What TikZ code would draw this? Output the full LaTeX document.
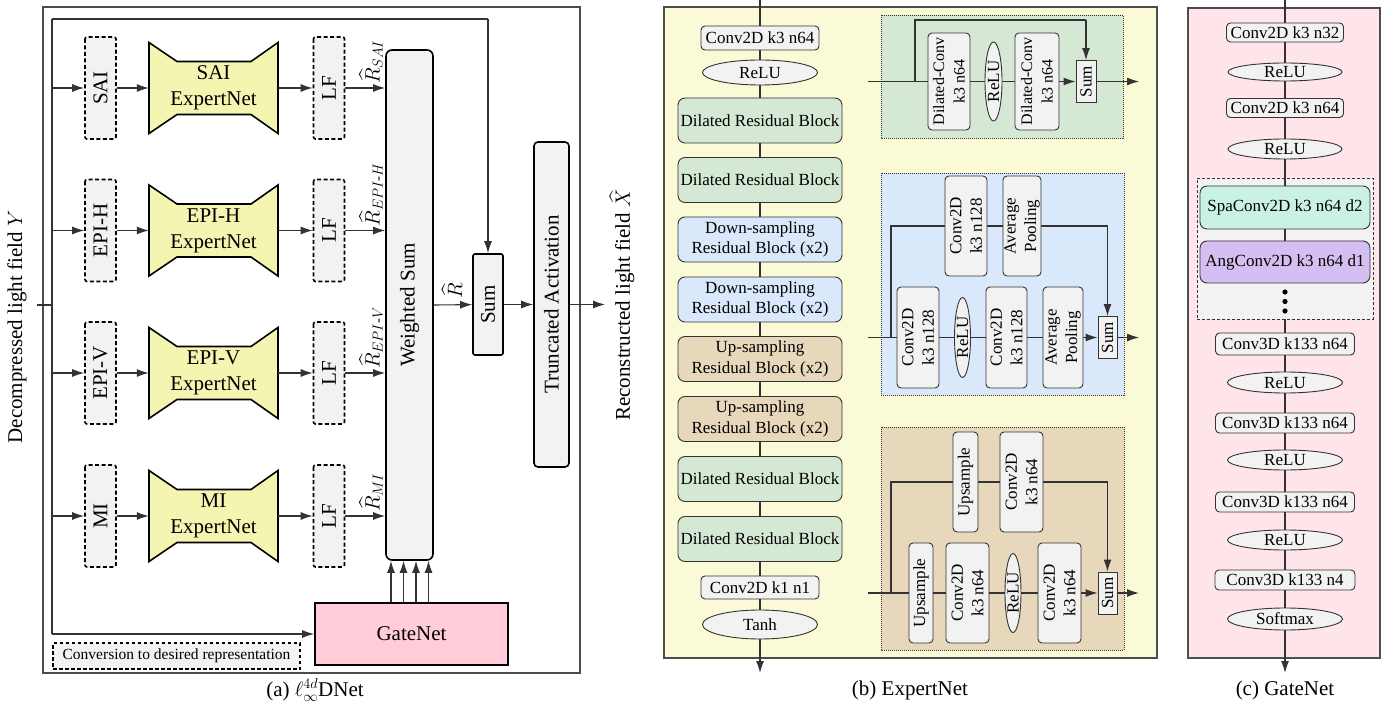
\documentclass[tikz,border=0pt]{standalone}
\usepackage{amsmath}
\usepackage{fontspec}
\setmainfont{Liberation Serif}
\usetikzlibrary{arrows.meta,calc,shapes.geometric}
\newcommand\fsA{\fontsize{21}{26}\selectfont}
\newcommand\fsB{\fontsize{17}{20.5}\selectfont}
\newcommand\fsD{\fontsize{16}{20.5}\selectfont}
\newcommand\fsC{\fontsize{15.5}{18}\selectfont}
\definecolor{cgray}{HTML}{F2F2F2}
\definecolor{cexp}{HTML}{F5F5B2}
\definecolor{cbgY}{HTML}{FAFAD6}
\definecolor{cgrn}{HTML}{D5E8D4}
\definecolor{cblu}{HTML}{DAE8FC}
\definecolor{ctan}{HTML}{E7D7BB}
\definecolor{cpnk}{HTML}{FFE5EA}
\definecolor{cgate}{HTML}{FFCCD8}
\definecolor{cmint}{HTML}{C9F2E2}
\definecolor{clav}{HTML}{D5BFF2}
\definecolor{cline}{HTML}{333333}
\tikzset{
  ln/.style={draw=cline, line width=1.1pt},
  arr/.style={ln, -{Latex[length=12pt,width=8pt]}},
  panel/.style={draw=black!70, line width=1.3pt},
  repbox/.style={draw=black, line width=1.6pt, dash pattern=on 4pt off 2.5pt, fill=cgray, rounded corners=2pt, rotate=90, minimum width=102pt, minimum height=31pt, inner sep=0pt, font=\fsA},
  expnode/.style={minimum width=129pt, minimum height=91pt, inner sep=0pt, align=center, font=\fsA},
  expshape/.style={draw=black, line width=1.6pt, fill=cexp, line join=miter},
  thickbox/.style={draw=black, line width=1.6pt, fill=cgray, inner sep=0pt, font=\fsA},
  blk/.style={draw=cline, line width=0.9pt, rounded corners=7pt, inner sep=0pt, align=center, font=\fsB, minimum width=164pt, minimum height=45pt},
  cbox/.style={draw=cline, line width=0.9pt, rounded corners=4pt, fill=cgray, inner sep=0pt, font=\fsB},
  sbox/.style={draw=cline, line width=0.9pt, fill=cgray, inner sep=0pt, font=\fsB},
  ell/.style={ellipse, draw=cline, line width=0.9pt, fill=cgray, inner sep=0pt, font=\fsB, text height=11.3pt, text depth=0pt},
  vsz/.style 2 args={rotate=90, minimum height=#1pt, minimum width=#2pt},
  det/.style={draw=cline, line width=0.8pt, dash pattern=on 1pt off 1pt},
  rlab/.style={rotate=90, anchor=west, font=\fsA, inner sep=1pt},
}
\begin{document}
\begin{tikzpicture}[x=1pt,y=-1pt]
\fill[white] (0,0) rectangle (1395,708);
\useasboundingbox (0,0) rectangle (1395,708);

%================ (a) =================
\draw[panel] (43,7) rectangle (580,673);
\node[rotate=90, font=\fsA] (inlab) at (17,327) {Decompressed light field $Y$};
\coordinate (inL) at (37,305);
\coordinate (busM) at (52,305);
\coordinate (busT) at (52,19);
\coordinate (busB) at (52,634);
\draw[ln] (inL) -- (busM);
\draw[ln] (busT) -- (busB);

\node[thickbox, rotate=90, rounded corners=6pt, minimum width=510pt, minimum height=47pt] (ws) at (409.5,305) {Weighted Sum};
\node[thickbox, rotate=90, rounded corners=2pt, minimum width=101pt, minimum height=30pt] (sum) at (488,304.5) {Sum};
\node[thickbox, rotate=90, rounded corners=4pt, minimum width=325pt, minimum height=35pt] (ta) at (551.5,304.5) {Truncated Activation};

\foreach \nm/\yy/\lab/\rl in {sai/88/SAI/{SAI}, eh/230.5/EPI-H/{EPI\text{-}H}, ev/373/EPI-V/{EPI\text{-}V}, mi/516/MI/{MI}} {
  \coordinate (b-\nm) at (52,\yy);
  \node[repbox] (r-\nm) at (100.5,\yy) {\lab};
  \draw[expshape] (149,\yy-45.5) -- (177,\yy-26.5) -- (251,\yy-26.5) -- (278,\yy-45.5) -- (278,\yy+45.5) -- (251,\yy+26.5) -- (177,\yy+26.5) -- (149,\yy+45.5) -- cycle;
  \node[expnode] (e-\nm) at (213.5,\yy) {\lab\\ExpertNet};
  \node[repbox] (l-\nm) at (329,\yy) {LF};
  \draw[arr] (b-\nm) -- (r-\nm);
  \draw[arr] (r-\nm) -- (e-\nm);
  \draw[arr] (e-\nm) -- (l-\nm);
  \draw[arr] (l-\nm) -- (l-\nm -| ws.north);
  \node[rlab] at (371,\yy-3) {$\widehat{R}_{\rl}$};
}

\coordinate (skT) at (488,19);
\draw[ln] (busT) -- (skT);
\draw[arr] (skT) -- (sum);
\draw[arr] (ws.south) -- (sum);
\node[rlab] (rhat) at (452,300) {$\widehat{R}$};
\draw[arr] (sum) -- (ta);
\coordinate (outA) at (605,304.5);
\draw[arr] (ta) -- (outA);
\node[rotate=90, font=\fsA] (outlab) at (622,305) {Reconstructed light field $\widehat{X}$};

\node[draw=black, line width=1.6pt, fill=cgate, minimum width=193pt, minimum height=62pt, inner sep=0pt, font=\fsA] (gate) at (411.5,634) {GateNet};
\draw[arr] (busB) -- (gate);
\foreach \gx [count=\i] in {391,403.5,416,428.5} {
  \coordinate (gx\i) at (\gx,600);
  \draw[arr] (gate.north -| gx\i) -- (ws.west -| gx\i);
}
\node[draw=black, line width=1.4pt, dash pattern=on 3.5pt off 2.5pt, fill=cgray, minimum width=247pt, minimum height=26pt, inner sep=0pt, font=\fsC] (conv) at (176.5,656) {Conversion to desired representation};
\node[font=\fsA] (capA) at (315,690) {(a) $\ell_\infty^{4d}$DNet};

%================ (b) =================
\draw[panel, fill=cbgY] (664,7) rectangle (1157,658);
\coordinate (mT) at (760,0);
\coordinate (mB) at (760,673);
\node[cbox, minimum width=118pt, minimum height=24pt] (m1) at (760,38) {Conv2D k3 n64};
\node[ell, minimum width=115pt, minimum height=25pt] (m2) at (760,72.5) {ReLU};
\node[blk, fill=cgrn] (m3) at (760,120.5) {Dilated Residual Block};
\node[blk, fill=cgrn] (m4) at (760,180) {Dilated Residual Block};
\node[blk, fill=cblu] (m5) at (760,239.5) {Down-sampling\\Residual Block (x2)};
\node[blk, fill=cblu] (m6) at (760,299.5) {Down-sampling\\Residual Block (x2)};
\node[blk, fill=ctan] (m7) at (760,359) {Up-sampling\\Residual Block (x2)};
\node[blk, fill=ctan] (m8) at (760,419) {Up-sampling\\Residual Block (x2)};
\node[blk, fill=cgrn] (m9) at (760,479) {Dilated Residual Block};
\node[blk, fill=cgrn] (m10) at (760,539) {Dilated Residual Block};
\node[cbox, minimum width=118pt, minimum height=23pt] (m11) at (760,587.5) {Conv2D k1 n1};
\node[ell, minimum width=115pt, minimum height=29pt] (m12) at (760,624.5) {Tanh};
\draw[ln] (mT) -- (m1) -- (m2) -- (m3) -- (m4) -- (m5) -- (m6) -- (m7) -- (m8) -- (m9) -- (m10) -- (m11) -- (m12);
\draw[arr] (m12) -- (mB);

% green detail
\draw[det, fill=cgrn] (881,15) rectangle (1123,138);
\coordinate (gin) at (868,81.5);
\coordinate (gbr) at (915,81.5);
\coordinate (gsk) at (1086,20);
\coordinate (gout) at (1139,81.5);
\node[cbox, vsz={42}{97}, align=center, font=\fsD] (g1) at (949,81.5) {Dilated-Conv\\k3 n64};
\node[ell, vsz={17}{79}] (g2) at (993.5,81.5) {ReLU};
\node[cbox, vsz={44}{97}, align=center, font=\fsD] (g3) at (1037,81.5) {Dilated-Conv\\k3 n64};
\node[sbox, vsz={20}{42}] (g4) at (1086,81.5) {Sum};
\draw[ln] (gin) -- (g1) -- (g2) -- (g3);
\draw[arr] (g3) -- (g4);
\draw[arr] (g4) -- (gout);
\draw[ln] (gbr) |- (gsk);
\draw[arr] (gsk) -- (g4);

% blue detail
\draw[det, fill=cblu] (881,173) rectangle (1124,395);
\coordinate (bin) at (868,337.5);
\coordinate (bbr) at (891,337.5);
\coordinate (bout) at (1139,337.5);
\node[cbox, vsz={42}{101}, align=center] (b1) at (918,337.5) {Conv2D\\k3 n128};
\node[ell, vsz={15}{80}] (b2) at (962.5,337.5) {ReLU};
\node[cbox, vsz={41}{101}, align=center] (b3) at (1006.5,337.5) {Conv2D\\k3 n128};
\node[cbox, vsz={40}{101}, align=center] (b4) at (1063,337.5) {Average\\Pooling};
\node[sbox, vsz={19}{42}] (b5) at (1107.5,337.5) {Sum};
\node[cbox, vsz={42}{100}, align=center] (b6) at (966,226) {Conv2D\\k3 n128};
\node[cbox, vsz={38}{100}, align=center] (b7) at (1022,226) {Average\\Pooling};
\draw[ln] (bin) -- (b1) -- (b2) -- (b3) -- (b4);
\draw[arr] (b4) -- (b5);
\draw[arr] (b5) -- (bout);
\draw[ln] (bbr) |- (b6);
\draw[ln] (b6) -- (b7);
\draw[arr] (b7) -| (b5);

% tan detail
\draw[det, fill=ctan] (881,427) rectangle (1124,650);
\coordinate (tin) at (868,593);
\coordinate (tbr) at (891,593);
\coordinate (tout) at (1139,593);
\node[cbox, vsz={24}{100}] (t1) at (921,593) {Upsample};
\node[cbox, vsz={43}{100}, align=center] (t2) at (967.5,593) {Conv2D\\k3 n64};
\node[ell, vsz={16}{79}] (t3) at (1013,593) {ReLU};
\node[cbox, vsz={43}{100}, align=center] (t4) at (1059.5,593) {Conv2D\\k3 n64};
\node[sbox, vsz={19}{42}] (t5) at (1107.5,593) {Sum};
\node[cbox, vsz={25}{100}] (t6) at (965.5,482) {Upsample};
\node[cbox, vsz={43}{100}, align=center] (t7) at (1021.5,482) {Conv2D\\k3 n64};
\draw[ln] (tin) -- (t1) -- (t2) -- (t3) -- (t4);
\draw[arr] (t4) -- (t5);
\draw[arr] (t5) -- (tout);
\draw[ln] (tbr) |- (t6);
\draw[ln] (t6) -- (t7);
\draw[arr] (t7) -| (t5);

\node[font=\fsA] (capB) at (910,690) {(b) ExpertNet};

%================ (c) =================
\draw[panel, fill=cpnk] (1188,8) rectangle (1380,658);
\coordinate (rT) at (1285,0);
\coordinate (rB) at (1285,673);
\node[draw=cline, line width=0.9pt, dash pattern=on 3pt off 2pt, fill=cgray, minimum width=176pt, minimum height=141pt, inner sep=0pt] (gcont) at (1285,248.5) {};
\node[cbox, minimum width=117pt, minimum height=19pt] (n1) at (1285,32.5) {Conv2D k3 n32};
\node[ell, minimum width=114pt, minimum height=18pt] (n2) at (1285,72) {ReLU};
\node[cbox, minimum width=117pt, minimum height=19pt] (n3) at (1285,108) {Conv2D k3 n64};
\node[ell, minimum width=114pt, minimum height=20pt] (n4) at (1285,149) {ReLU};
\node[cbox, fill=cmint, rounded corners=7pt, minimum width=170pt, minimum height=43pt] (spa) at (1285,207.5) {SpaConv2D k3 n64 d2};
\node[cbox, fill=clav, rounded corners=7pt, minimum width=170pt, minimum height=42pt] (ang) at (1285,262) {AngConv2D k3 n64 d1};
\fill[black] (1285,292) circle (2.6pt) (1285,301.5) circle (2.6pt) (1285,311) circle (2.6pt);
\node[cbox, minimum width=139pt, minimum height=22pt] (n5) at (1285,344) {Conv3D k133 n64};
\node[ell, minimum width=115pt, minimum height=21pt] (n6) at (1285,382.5) {ReLU};
\node[cbox, minimum width=139pt, minimum height=20pt] (n7) at (1285,423) {Conv3D k133 n64};
\node[ell, minimum width=115pt, minimum height=20pt] (n8) at (1285,460) {ReLU};
\node[cbox, minimum width=139pt, minimum height=20pt] (n9) at (1285,502) {Conv3D k133 n64};
\node[ell, minimum width=115pt, minimum height=20pt] (n10) at (1285,540) {ReLU};
\node[cbox, minimum width=140pt, minimum height=20pt] (n11) at (1285,580) {Conv3D k133 n4};
\node[ell, minimum width=115pt, minimum height=22pt] (n12) at (1285,619) {Softmax};
\draw[ln] (rT) -- (n1) -- (n2) -- (n3) -- (n4) -- (spa) -- (ang);
\draw[ln] (gcont.south) -- (n5) -- (n6) -- (n7) -- (n8) -- (n9) -- (n10) -- (n11) -- (n12);
\draw[arr] (n12) -- (rB);
\node[font=\fsA] (capC) at (1285,690) {(c) GateNet};
\end{tikzpicture}
\end{document}
